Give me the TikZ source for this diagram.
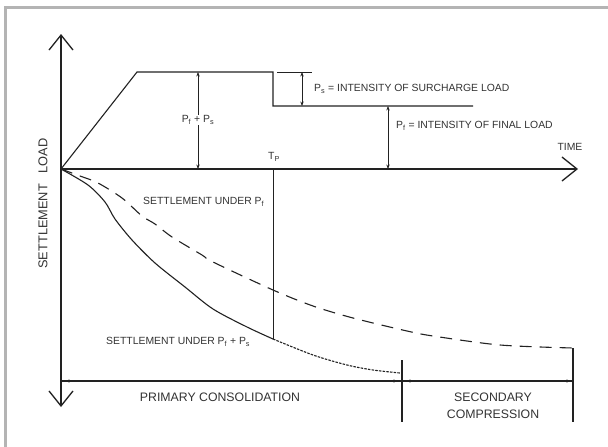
\documentclass[tikz,border=0pt]{standalone}
\usepackage{fontspec}
\setmainfont{Liberation Sans}
\usetikzlibrary{arrows.meta}
\definecolor{ink}{HTML}{222222}
\definecolor{txt}{HTML}{333333}
\definecolor{frame}{HTML}{B4B4B4}
\tikzset{barb/.tip={Straight Barb[length=15pt,width=24pt,line width=1.3pt]}}
\begin{document}
\begin{tikzpicture}[x=1pt,y=-1pt,
  lbl/.style={font=\fontsize{10.4}{12}\selectfont, text=txt, inner sep=1pt},
  biglbl/.style={font=\fontsize{12.3}{17}\selectfont, text=txt, inner sep=1pt, align=center},
  axisline/.style={draw=ink, line width=1.3pt},
  thin/.style={draw=ink, line width=0.9pt},
  dim/.style={draw=ink, line width=0.9pt, {Stealth[length=4.5pt,width=3.4pt]}-{Stealth[length=4.5pt,width=3.4pt]}},
  dotmark/.style={fill=ink, circle, inner sep=0pt, minimum size=3.4pt}
]
\useasboundingbox (0,0) rectangle (608,447);
\fill[white] (0,0) rectangle (608,447);
\draw[frame, line width=3pt] (5.5,447) -- (5.5,7.5) -- (608,7.5);

% coordinates
\coordinate (O) at (61,169);
\coordinate (ytop) at (61,34);
\coordinate (ybot) at (61,407);
\coordinate (xend) at (578,169);
\coordinate (A) at (137,72);
\coordinate (B) at (273,72);
\coordinate (C) at (273,106);
\coordinate (D) at (473,106);
\coordinate (E) at (277,72);
\coordinate (F) at (312,72);
\coordinate (G) at (302,72);
\coordinate (H) at (302,106);
\coordinate (I) at (198,72);
\coordinate (J) at (198,169);
\coordinate (K) at (388,106);
\coordinate (L) at (388,169);
\coordinate (T1) at (273,169);
\coordinate (T2) at (273,339);
\coordinate (b0) at (61,381);
\coordinate (b2) at (573,381);
\coordinate (s1) at (402,360);
\coordinate (s2) at (402,422);
\coordinate (r1) at (573,348);
\coordinate (r2) at (573,422);

% axes
\draw[axisline, barb-barb] (ybot) -- (ytop);
\draw[axisline, -barb] (O) -- (xend);

% load diagram
\draw[thin, line width=1.1pt] (O) -- (A) -- (B) -- (C) -- (D);
\draw[thin] (E) -- (F);
\draw[dim] (G) -- (H);
\draw[dim] (I) -- (J);
\draw[dim] (K) -- (L);

% Tp line
\draw[thin] (T1) -- (T2);

% settlement curves
\draw[thin, line width=1.1pt] plot[smooth, tension=0.5] coordinates {(61,169) (88,185) (105,202) (115,219) (132,240) (155,263) (185,287) (213,309) (247,327) (273,339)};
\draw[thin, line width=1.1pt, dash pattern=on 2.5pt off 1.2pt] plot[smooth, tension=0.5] coordinates {(273,339) (313,355) (347,365) (373,370) (400,373)};
\draw[thin, line width=1.1pt, dash pattern=on 12pt off 8pt] plot[smooth, tension=0.5] coordinates {(61,169) (80,176) (98,183) (122,198) (142,216) (155,224) (172,237) (202,255) (213,262) (273,290) (313,306) (353,318) (407,331) (433,336) (500,345) (573,348)};

% bottom dimension lines
\draw[axisline, line width=1.1pt] (b0) -- (b2);
\draw[thin, line width=1.1pt] (s1) -- (s2);
\draw[thin, line width=1.1pt] (r1) -- (r2);
\node[dotmark] (d1) at (69,381) {};
\node[dotmark] (d2) at (394,381) {};
\node[dotmark] (d3) at (410,381) {};
\node[dotmark] (d4) at (567,381) {};

% labels
\node[lbl, fill=white] (pfps) at (198,120) {P\textsubscript{f} + P\textsubscript{s}};
\node[lbl, anchor=west] (ps) at (313,89) {P\textsubscript{s} = INTENSITY OF SURCHARGE LOAD};
\node[lbl, anchor=west] (pf) at (395,126) {P\textsubscript{f} = INTENSITY OF FINAL LOAD};
\node[lbl] (time) at (570,147) {TIME};
\node[lbl] (tp) at (274,157) {T\textsubscript{P}};
\node[lbl, anchor=west] (s1l) at (142,202) {SETTLEMENT UNDER P\textsubscript{f}};
\node[lbl, anchor=west] (s2l) at (105,342) {SETTLEMENT UNDER P\textsubscript{f} + P\textsubscript{s}};
\node[biglbl] (prim) at (220,397) {PRIMARY CONSOLIDATION};
\node[biglbl] (sec) at (493,405.5) {SECONDARY\\COMPRESSION};
\node[biglbl, font=\fontsize{12.8}{15}\selectfont, rotate=90] (ylab) at (43,203.5) {SETTLEMENT\ \ \ LOAD};
\end{tikzpicture}
\end{document}
